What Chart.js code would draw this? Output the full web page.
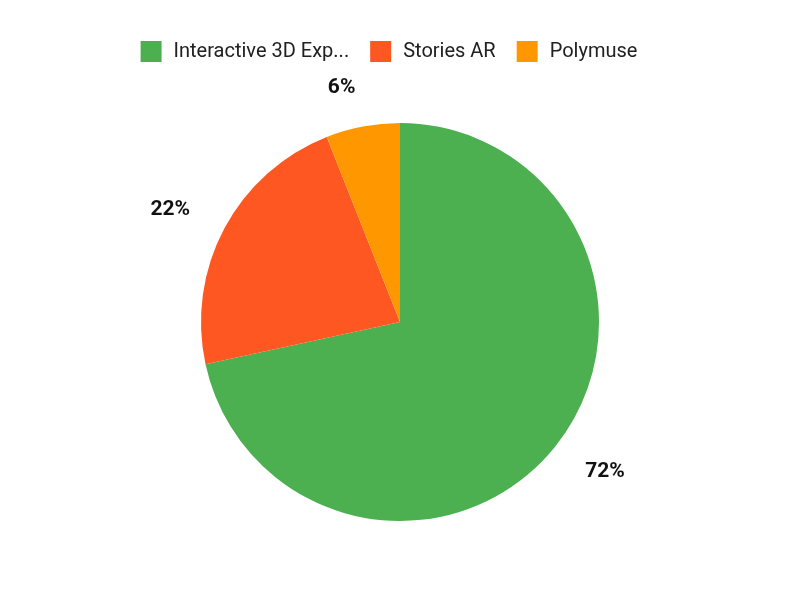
<!DOCTYPE html>
<html>
<head>
<meta charset="utf-8">
<script src="https://cdn.jsdelivr.net/npm/chart.js@4.4.0/dist/chart.umd.min.js"></script>
<style>
html,body{margin:0;padding:0;background:#fff;}
#wrap{width:800px;height:600px;}
</style>
</head>
<body>
<div id="wrap"><canvas id="c" width="800" height="600"></canvas></div>
<script>
const categories = ["Interactive 3D Exp...", "Stories AR", "Polymuse"];
const values = [71.6, 22.4, 6.0];
const colors = ["#4CAF50", "#FF5722", "#FF9800"];

const outsideLabels = {
  id: 'outsideLabels',
  afterDatasetsDraw(chart) {
    const ctx = chart.ctx;
    const meta = chart.getDatasetMeta(0);
    const total = values.reduce((a, b) => a + b, 0);
    ctx.save();
    ctx.font = 'bold 21px Roboto';
    ctx.fillStyle = '#111';
    ctx.textBaseline = 'middle';
    meta.data.forEach((arc, i) => {
      const txt = Math.round(values[i] / total * 100) + '%';
      const mid = (arc.startAngle + arc.endAngle) / 2;
      const c = Math.cos(mid), s = Math.sin(mid);
      const r = arc.outerRadius + 39;
      ctx.textAlign = c >= 0 ? 'left' : 'right';
      ctx.fillText(txt, arc.x + c * r, arc.y + s * r);
    });
    ctx.restore();
  }
};

const legendTweak = {
  id: 'legendTweak',
  beforeInit(chart) {
    const orig = chart.legend.fit;
    chart.legend.fit = function () {
      orig.call(this);
      this.height += 49;
    };
  },
  afterLayout(chart) {
    chart.legend.left -= 12;
    chart.legend.right -= 12;
  }
};

new Chart(document.getElementById('c'), {
  type: 'pie',
  data: {
    labels: categories,
    datasets: [{
      data: values,
      backgroundColor: colors,
      borderWidth: 0
    }]
  },
  options: {
    responsive: false,
    animation: false,
    layout: { padding: { top: 20, bottom: 79 } },
    plugins: {
      legend: {
        position: 'top',
        labels: {
          boxWidth: 25,
          boxHeight: 25,
          padding: 19,
          color: '#212121',
          font: { family: 'Roboto', size: 20 },
          generateLabels(chart) {
            return categories.map((t, i) => ({
              text: t,
              fillStyle: colors[i],
              strokeStyle: '#ffffff',
              lineWidth: 4,
              fontColor: '#212121',
              hidden: false,
              index: i
            }));
          }
        }
      },
      tooltip: { enabled: false }
    }
  },
  plugins: [legendTweak, outsideLabels]
});
</script>
</body>
</html>
